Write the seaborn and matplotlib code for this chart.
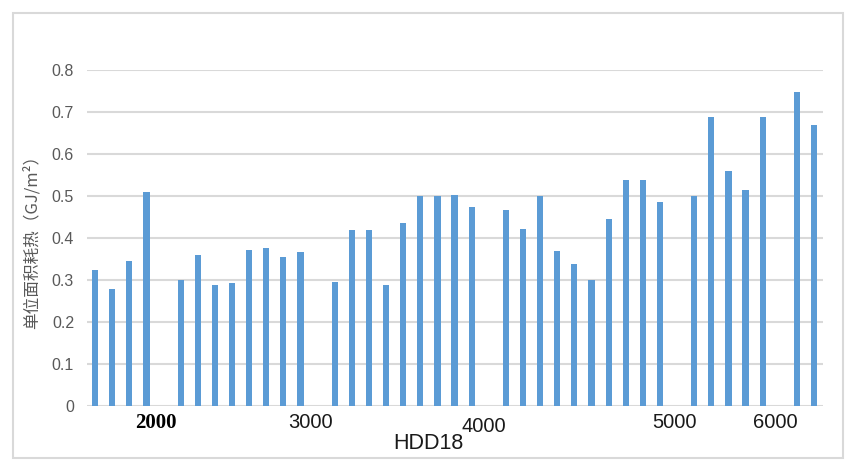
import numpy as np
import pandas as pd
import seaborn as sns
import matplotlib.pyplot as plt
from matplotlib.patches import Rectangle
from matplotlib.transforms import blended_transform_factory

# bar heights, one per slot along the HDD18 axis (None = no bar in that slot)
heat_use = [0.324, 0.279, 0.345, 0.510, None,
            0.300, 0.360, 0.288, 0.293, 0.371, 0.376, 0.355, 0.367, None,
            0.295, 0.419, 0.419, 0.288, 0.436, 0.500, 0.500, 0.502, 0.474, None,
            0.467, 0.421, 0.500, 0.369, 0.338, 0.300, 0.445, 0.538, 0.538, 0.486, None,
            0.500, 0.688, 0.560, 0.514, 0.688, None,
            0.748, 0.669]
slots = list(range(len(heat_use)))

hdd_labels = ["2000", "3000", "4000", "5000", "6000"]
hdd_label_slots = [3.56, 12.56, 22.7, 33.86, 39.72]

y_ticks = [0, 0.1, 0.2, 0.3, 0.4, 0.5, 0.6, 0.7, 0.8]

df = pd.DataFrame({"slot": slots, "heat": heat_use}).dropna()

sns.set_style("white")
plt.rcParams['font.family'] = ['Liberation Sans', 'DejaVu Sans']
plt.rcParams['font.serif'] = ['Liberation Serif', 'DejaVu Serif']

fig = plt.figure(figsize=(8.6, 4.74), dpi=100)
ax = fig.add_axes([0.1006, 0.1435, 0.8559, 0.7088])

sns.barplot(x="slot", y="heat", data=df, order=slots, color="#5b9bd5",
            saturation=1, width=0.36, linewidth=0, ax=ax, zorder=3)

ax.set_xlim(-0.5, len(slots) - 0.5)
ax.set_ylim(0, 0.8)
ax.set_yticks(y_ticks, ["0" if v == 0 else f"{v:.1f}" for v in y_ticks])
ax.tick_params(axis="y", length=0, pad=9, labelsize=11.5, labelcolor="#595959")
ax.set_xticks([])
ax.grid(axis="y", color="#d9d9d9", linewidth=1.5, zorder=0)
ax.set_axisbelow(True)
for s in ax.spines.values():
    s.set_visible(False)

ax.set_xlabel("")
ax.set_ylabel("单位面积耗热（GJ/m²）", family=['Noto Sans CJK SC', 'DejaVu Sans'],
              fontsize=12, color="#595959")
ax.yaxis.set_label_coords(-0.063, 0.5)

# hand placed HDD18 labels under the bars
trans = blended_transform_factory(ax.transData, fig.transFigure)
for lab, pos in zip(hdd_labels, hdd_label_slots):
    if lab == "2000":
        ax.text(pos, 1 - 423 / 474, lab, transform=trans, ha="center", va="center",
                family="serif", fontweight="bold", fontsize=15, color="#000000")
    elif lab == "4000":
        ax.text(pos, 1 - 426 / 474, lab, transform=trans, ha="center", va="center",
                fontsize=14.5, color="#1a1a1a")
    else:
        ax.text(pos, 1 - 423 / 474, lab, transform=trans, ha="center", va="center",
                fontsize=14.5, color="#1a1a1a")

fig.text(428 / 860, 1 - 443.5 / 474, "HDD18", ha="center", va="center",
         fontsize=15.5, color="#1a1a1a")

# light frame round the chart
fig.patches.append(Rectangle((13 / 860, 1 - 458 / 474), 830 / 860, 445 / 474,
                             transform=fig.transFigure, fill=False,
                             edgecolor="#d9d9d9", linewidth=1.5))

fig.savefig("out.png", dpi=100, facecolor="white")
